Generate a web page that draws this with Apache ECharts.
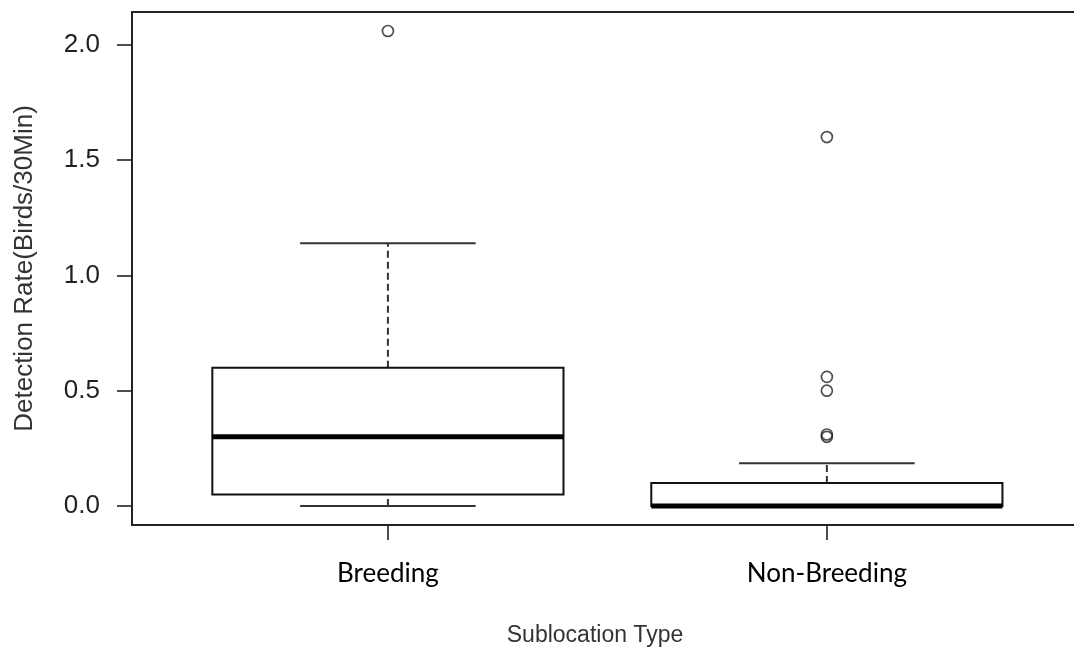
<!DOCTYPE html>
<html>
<head>
<meta charset="utf-8">
<script src="https://cdn.jsdelivr.net/npm/echarts@6/dist/echarts.min.js"></script>
<style>
  html, body { margin: 0; padding: 0; background: #fff; }
  #chart { width: 1074px; height: 656px; }
</style>
</head>
<body>
<div id="chart"></div>
<script>
var categories = ['Breeding', 'Non-Breeding'];
// low whisker, Q1, median, Q3, high whisker
var boxStats = [
    [0.00, 0.05, 0.30, 0.60, 1.14],
    [0.00, 0.00, 0.00, 0.10, 0.185]
];
var outlierCategory = [0, 1, 1, 1, 1, 1];
var outlierValues = [2.06, 1.60, 0.56, 0.50, 0.31, 0.30];
var yTicks = [0, 0.5, 1, 1.5, 2];

var boxData = boxStats.map(function (s, i) {
    return [i + 1].concat(s);
});
var outlierData = outlierValues.map(function (v, i) {
    return [outlierCategory[i] + 1, v];
});

function renderBox(params, api) {
    var x = api.value(0);
    var lo = api.coord([x, api.value(1)]);
    var q1 = api.coord([x, api.value(2)]);
    var med = api.coord([x, api.value(3)]);
    var q3 = api.coord([x, api.value(4)]);
    var hi = api.coord([x, api.value(5)]);
    var halfBox = api.size([0.4, 0])[0];
    var halfCap = api.size([0.2, 0])[0];
    var cx = q1[0];
    var dashed = { stroke: '#333', lineWidth: 2, lineDash: [7, 4] };
    var cap = { stroke: '#333', lineWidth: 2 };
    return {
        type: 'group',
        children: [
            { type: 'line', shape: { x1: cx, y1: q3[1], x2: cx, y2: hi[1] }, style: dashed },
            { type: 'line', shape: { x1: cx, y1: lo[1], x2: cx, y2: q1[1] }, style: dashed },
            { type: 'line', shape: { x1: cx - halfCap, y1: hi[1], x2: cx + halfCap, y2: hi[1] }, style: cap },
            { type: 'line', shape: { x1: cx - halfCap, y1: lo[1], x2: cx + halfCap, y2: lo[1] }, style: cap },
            { type: 'rect', shape: { x: cx - halfBox, y: q3[1], width: halfBox * 2, height: q1[1] - q3[1] },
              style: { stroke: '#111', lineWidth: 2, fill: '#fff' } },
            { type: 'line', shape: { x1: cx - halfBox, y1: med[1], x2: cx + halfBox, y2: med[1] },
              style: { stroke: '#000', lineWidth: 5 } }
        ]
    };
}

var myChart = echarts.init(document.getElementById('chart'));
var frameLine = { show: true, onZero: false, lineStyle: { color: '#222', width: 2 } };
var option = {
    backgroundColor: '#fff',
    animation: false,
    grid: { left: 132, right: 0, top: 12, bottom: 131 },
    xAxis: [
        {
            type: 'value', min: 0.417, max: 2.563, position: 'bottom',
            name: 'Sublocation Type', nameLocation: 'middle', nameGap: 99,
            nameTextStyle: { fontFamily: 'Liberation Sans', fontSize: 23, color: '#333', padding: [0, 16, 0, 0] },
            axisLine: frameLine,
            splitLine: { show: false },
            axisTick: { show: true, inside: false, length: 15, lineStyle: { color: '#222', width: 1.6 }, customValues: [1, 2] },
            axisLabel: {
                customValues: [1, 2], margin: 36,
                fontFamily: 'Lato', fontSize: 26, color: '#000',
                formatter: function (v) { return categories[Math.round(v) - 1]; }
            }
        },
        {
            type: 'value', min: 0.417, max: 2.563, position: 'top',
            axisLine: frameLine,
            axisTick: { show: false }, axisLabel: { show: false }, splitLine: { show: false }
        }
    ],
    yAxis: {
        type: 'value', min: -0.0824, max: 2.1424,
        name: 'Detection Rate(Birds/30Min)', nameLocation: 'middle', nameGap: 94, nameRotate: 90,
        nameTextStyle: { fontFamily: 'Liberation Sans', fontSize: 26, color: '#333' },
        axisLine: frameLine,
        splitLine: { show: false },
        axisTick: { show: true, inside: false, length: 15, lineStyle: { color: '#222', width: 1.6 }, customValues: yTicks },
        axisLabel: {
            customValues: yTicks, margin: 32,
            fontFamily: 'Liberation Sans', fontSize: 26, color: '#222',
            formatter: function (v) { return v.toFixed(1); }
        }
    },
    series: [
        {
            type: 'custom',
            renderItem: renderBox,
            data: boxData,
            encode: { x: 0, y: [1, 2, 3, 4, 5] },
            clip: true
        },
        {
            type: 'scatter',
            data: outlierData,
            symbol: 'circle',
            symbolSize: 11,
            itemStyle: { color: 'rgba(0,0,0,0)', borderColor: '#222', borderWidth: 1.7 }
        }
    ]
};
myChart.setOption(option);
</script>
</body>
</html>
